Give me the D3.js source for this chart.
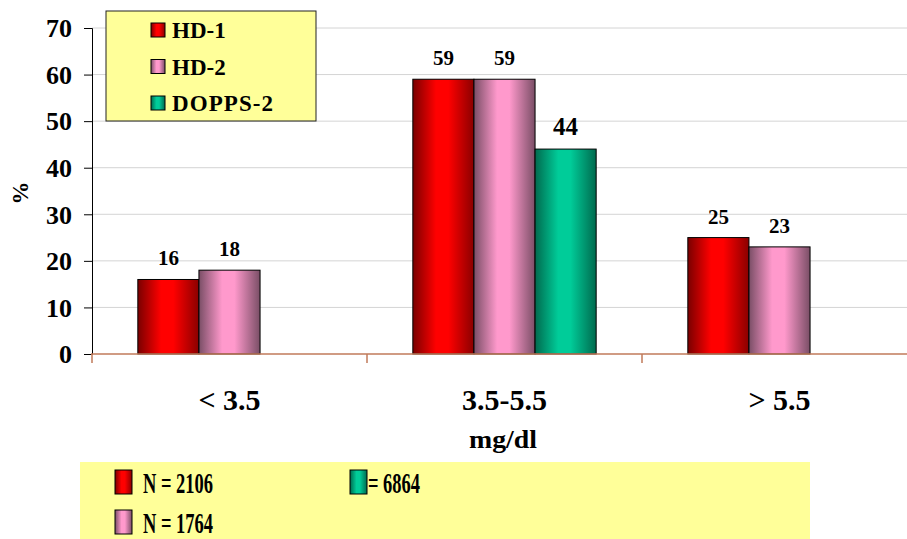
<!DOCTYPE html>
<html><head><meta charset="utf-8">
<script src="https://cdn.jsdelivr.net/npm/d3@7"></script>
</head>
<body style="margin:0;background:#fff;"><svg id="c" width="907" height="539"></svg>
<script>
// Phosphorus distribution by study
const categories = ["< 3.5", "3.5-5.5", "> 5.5"];
const seriesNames = ["HD-1", "HD-2", "DOPPS-2"];
const hd1 = [16, 59, 25];
const hd2 = [18, 59, 23];
const dopps2 = [null, 44, null];
const yTicks = [0, 10, 20, 30, 40, 50, 60, 70];
const nLabels = ["N = 2106", "N = 1764", "= 6864"];

const FONT = "'Times New Roman', 'Liberation Serif', Tinos, serif";
const svg = d3.select("#c");
const M = {left: 92, right: 917, top: 28, bottom: 354};

const x = d3.scaleBand().domain(categories).range([M.left, M.right]).paddingInner(0).paddingOuter(0);
const inner = d3.scaleBand().domain(seriesNames).range([0, x.bandwidth()]).paddingOuter(0.75).paddingInner(0);
const y = d3.scaleLinear().domain([0, 70]).range([M.bottom, M.top]);

function txt(sel) {
  return sel.style("font-family", FONT).style("font-weight", "bold").attr("fill", "#000");
}

// gradients for the cylinder-like shading
const defs = svg.append("defs");
const shades = {
  "HD-1": ["#7a0000", "#ff0000", "#8a0000"],
  "HD-2": ["#7a4e66", "#ff99cc", "#7a4e66"],
  "DOPPS-2": ["#006a4e", "#00cc99", "#006a4e"]
};
seriesNames.forEach((s, i) => {
  const g = defs.append("linearGradient").attr("id", "g" + i).attr("x1", 0).attr("x2", 1).attr("y1", 0).attr("y2", 0);
  g.append("stop").attr("offset", "0%").attr("stop-color", shades[s][0]);
  g.append("stop").attr("offset", "38%").attr("stop-color", shades[s][1]);
  g.append("stop").attr("offset", "58%").attr("stop-color", shades[s][1]);
  g.append("stop").attr("offset", "100%").attr("stop-color", shades[s][2]);
});

// gridlines
svg.append("g").selectAll("line").data(yTicks.slice(1)).join("line")
  .attr("x1", M.left).attr("x2", 907).attr("y1", d => y(d)).attr("y2", d => y(d))
  .attr("stroke", "#d4d4d4").attr("stroke-width", 1);

// y axis
const yAxis = d3.axisLeft(y).tickValues(yTicks).tickSize(8).tickPadding(12);
const ya = svg.append("g").attr("transform", `translate(${M.left},0)`).call(yAxis)
  .attr("font-family", null).attr("font-size", null);
ya.select(".domain").attr("stroke", "#000");
ya.selectAll(".tick line").attr("stroke", "#000");
txt(ya.selectAll(".tick text")).style("font-size", "26px").attr("dy", "0.34em");

txt(svg.append("text")).attr("transform", `translate(28,${(M.top + M.bottom) / 2 + 2}) rotate(-90)`)
  .attr("text-anchor", "middle").style("font-size", "23px").text("%");

// bars
const seriesData = [hd1, hd2, dopps2];
seriesData.forEach((vals, si) => {
  const s = seriesNames[si];
  const data = categories.map((c, ci) => ({c, v: vals[ci]})).filter(d => d.v != null);
  svg.append("g").selectAll("rect").data(data).join("rect")
    .attr("x", d => x(d.c) + inner(s))
    .attr("y", d => y(d.v))
    .attr("width", inner.bandwidth())
    .attr("height", d => y(0) - y(d.v))
    .attr("fill", `url(#g${si})`).attr("stroke", "#000").attr("stroke-width", 1);
  txt(svg.append("g").selectAll("text").data(data).join("text"))
    .attr("x", d => x(d.c) + inner(s) + inner.bandwidth() / 2)
    .attr("y", d => y(d.v) - 14)
    .attr("text-anchor", "middle")
    .style("font-size", s === "DOPPS-2" ? "25px" : "21px")
    .text(d => d.v);
});

// x axis with category separators
const xa = svg.append("g").attr("transform", `translate(0,${M.bottom})`);
xa.append("line").attr("x1", M.left - 1).attr("x2", 907).attr("y1", 0).attr("y2", 0).attr("stroke", "#c07a5a").attr("stroke-width", 1.5);
xa.selectAll(".sep").data(categories.map(c => x(c))).join("line")
  .attr("x1", d => d).attr("x2", d => d).attr("y1", 0).attr("y2", 9)
  .attr("stroke", "#c07a5a").attr("stroke-width", 1.5);

txt(svg.append("g").selectAll("text").data(categories).join("text"))
  .attr("x", d => x(d) + x.bandwidth() / 2).attr("y", 410)
  .attr("text-anchor", "middle").style("font-size", "30px").text(d => d);

txt(svg.append("text")).attr("x", 469).attr("y", 448)
  .style("font-size", "25px").attr("textLength", 68).attr("lengthAdjust", "spacingAndGlyphs").text("mg/dl");

// series legend
const lg = svg.append("g");
lg.append("rect").attr("x", 106).attr("y", 11).attr("width", 210).attr("height", 110)
  .attr("fill", "#ffff99").attr("stroke", "#222").attr("stroke-width", 1);
seriesNames.forEach((s, i) => {
  const yy = 30 + i * 36.5;
  lg.append("rect").attr("x", 151).attr("y", yy - 7).attr("width", 14).attr("height", 14)
    .attr("fill", `url(#g${i})`).attr("stroke", "#000").attr("stroke-width", 1);
  const t = txt(lg.append("text")).attr("x", 172).attr("y", yy + 8).style("font-size", "23px").text(s);
  if (s === "DOPPS-2") t.attr("textLength", 101).attr("lengthAdjust", "spacing");
});

// sample size legend
const nb = svg.append("g");
nb.append("rect").attr("x", 80).attr("y", 462).attr("width", 730).attr("height", 77).attr("fill", "#ffff99");
const nPos = [{x: 115, y: 470, t: 143, w: 70}, {x: 115, y: 510, t: 143, w: 70}, {x: 350, y: 470, t: 368, w: 52}];
nLabels.forEach((lab, i) => {
  const p = nPos[i];
  nb.append("rect").attr("x", p.x).attr("y", p.y).attr("width", 17).attr("height", 24)
    .attr("fill", `url(#g${i})`).attr("stroke", "#000").attr("stroke-width", 1);
  txt(nb.append("text")).attr("x", p.t).attr("y", p.y + 23).style("font-size", "30px")
    .attr("textLength", p.w).attr("lengthAdjust", "spacingAndGlyphs").text(lab);
});
</script></body></html>
